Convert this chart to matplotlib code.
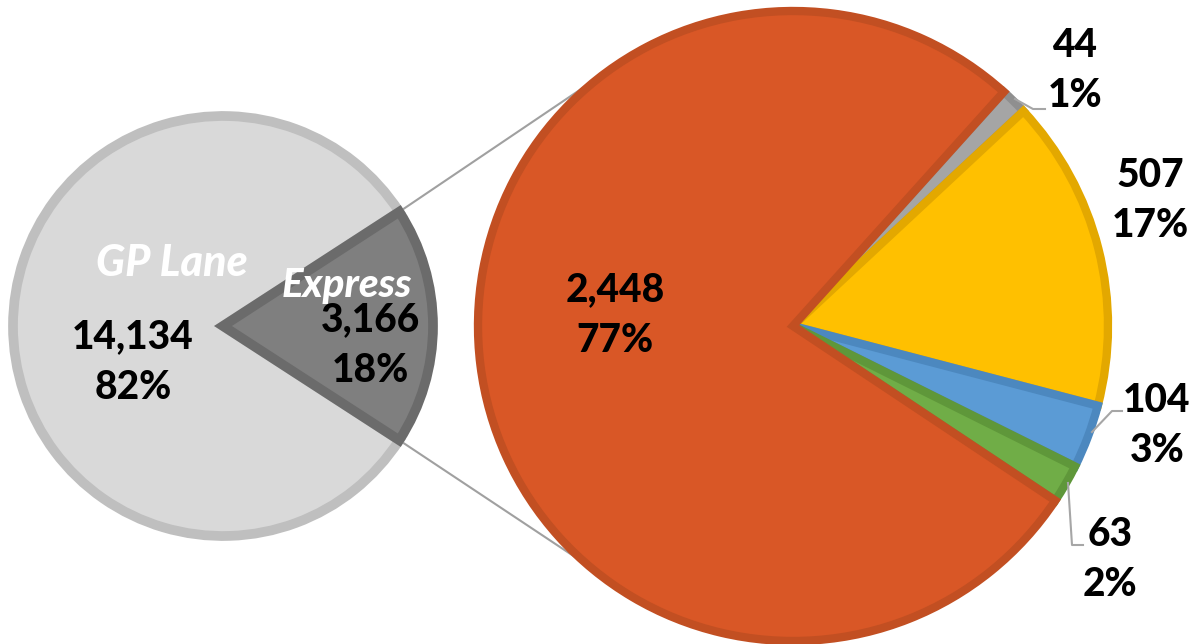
import numpy as np
import matplotlib.pyplot as plt

# left pie: lanes
lane_names = ["Express", "GP Lane"]
lane_values = [3166, 14134]
lane_pcts = ["18%", "82%"]

# right pie: breakdown of express
sub_values = [44, 507, 104, 63, 2448]
sub_pcts = ["1%", "17%", "3%", "2%", "77%"]
sub_colors = ["#a5a5a5", "#ffc000", "#5b9bd5", "#70ad47", "#d95726"]
sub_edges = ["#8f8f8f", "#e3a800", "#4c88bf", "#5f973a", "#c24f22"]

W, H = 1191, 644
fig = plt.figure(figsize=(W / 100, H / 100), dpi=100)
ax = fig.add_axes([0, 0, 1, 1])
ax.set_aspect("equal")

plt.rcParams["font.family"] = ["Lato", "DejaVu Sans"]
fz = 28

def py(y):
    return H - y

c1 = (223, py(326))
r1 = 210
c2 = (793, py(326))
r2 = 315

# left pie, express slice centered on 0 deg
half = 360 * lane_values[0] / sum(lane_values) / 2
w1, _ = ax.pie(lane_values, center=c1, radius=r1, startangle=-half,
               colors=["#7f7f7f", "#d9d9d9"],
               wedgeprops=dict(linewidth=7, edgecolor="#bfbfbf"), frame=True)
w1[0].set_edgecolor("#6b6b6b")
w1[0].set_zorder(3)

# right pie, small slices first going clockwise
w2, _ = ax.pie(sub_values, center=c2, radius=r2, startangle=48,
               counterclock=False, colors=sub_colors,
               wedgeprops=dict(linewidth=6), frame=True)
for w, ec in zip(w2, sub_edges):
    w.set_edgecolor(ec)
w2[-1].set_zorder(1)

ax.set_xlim(0, W)
ax.set_ylim(0, H)
ax.axis("off")

# connector lines
for a1, a2 in [(half, 125), (-half, 230)]:
    p1 = (c1[0] + r1 * np.cos(np.radians(a1)), c1[1] + r1 * np.sin(np.radians(a1)))
    p2 = (c2[0] + r2 * np.cos(np.radians(a2)), c2[1] + r2 * np.sin(np.radians(a2)))
    ax.plot([p1[0], p2[0]], [p1[1], p2[1]], color="#a0a0a0", lw=1.5, zorder=0)

# labels
ax.text(172, py(263), "GP Lane", color="white", fontsize=31, fontweight="black",
        fontstyle="italic", ha="center", va="center", zorder=5)
ax.text(347, py(285), "Express", color="white", fontsize=29, fontweight="black",
        fontstyle="italic", ha="center", va="center", zorder=5)

def lab(x, y, v, p):
    ax.text(x, py(y), f"{v:,}", fontsize=fz, fontweight="black", ha="center", va="center", zorder=5)
    ax.text(x, py(y + 50), p, fontsize=fz, fontweight="black", ha="center", va="center", zorder=5)

lab(133, 337, lane_values[1], lane_pcts[1])
lab(370, 320, lane_values[0], lane_pcts[0])

pos = [(1075, 45), (1150, 175), (1157, 400), (1110, 535), (615, 290)]
for (x, y), v, p in zip(pos, sub_values, sub_pcts):
    lab(x, y, v, p)

# leader lines
leaders = [[(1045, 109), (1033, 109), (1015, 99)],
           [(1122, 411), (1112, 411), (1092, 432)],
           [(1083, 545), (1072, 545), (1068, 483)]]
for pts in leaders:
    xs = [p[0] for p in pts]
    ys = [py(p[1]) for p in pts]
    ax.plot(xs, ys, color="#a6a6a6", lw=1.5, zorder=4)

fig.savefig("out.png", dpi=100)
